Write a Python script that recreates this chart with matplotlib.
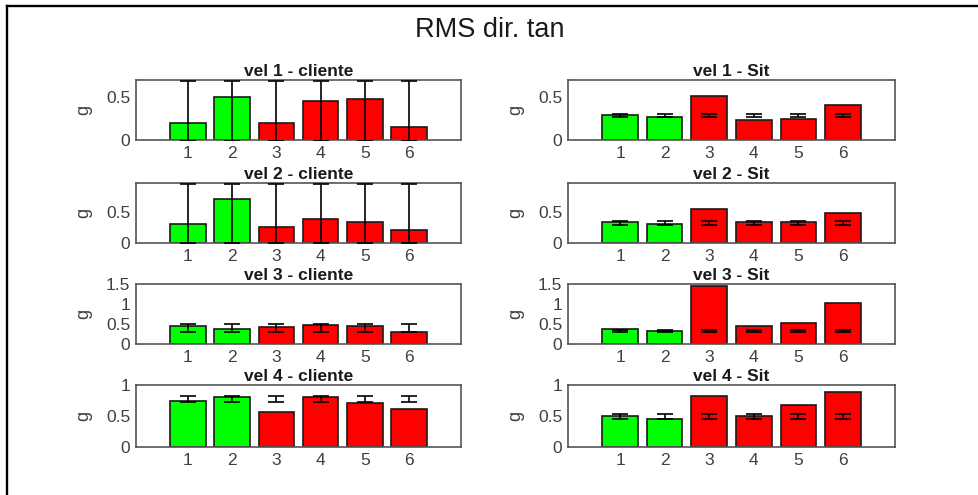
import matplotlib
matplotlib.use("Agg")
import matplotlib.pyplot as plt
from matplotlib.lines import Line2D

plt.rcParams['font.family'] = ['Liberation Sans', 'DejaVu Sans']

# Trial numbers and bar colours (first two conditions green, the rest red)
positions = [1, 2, 3, 4, 5, 6]
tick_labels = ['1', '2', '3', '4', '5', '6']
bar_colors = ['#00ff00', '#00ff00', '#ff0000', '#ff0000', '#ff0000', '#ff0000']

# RMS values (g) per speed, "cliente" condition
cliente_vel1 = [0.19, 0.49, 0.19, 0.45, 0.47, 0.15]
cliente_vel2 = [0.31, 0.70, 0.26, 0.38, 0.34, 0.21]
cliente_vel3 = [0.45, 0.37, 0.425, 0.475, 0.45, 0.31]
cliente_vel4 = [0.74, 0.80, 0.56, 0.80, 0.705, 0.61]

# RMS values (g) per speed, "Sit" condition
sit_vel1 = [0.29, 0.27, 0.51, 0.23, 0.245, 0.40]
sit_vel2 = [0.33, 0.31, 0.55, 0.34, 0.33, 0.48]
sit_vel3 = [0.37, 0.33, 1.45, 0.45, 0.52, 1.02]
sit_vel4 = [0.495, 0.455, 0.82, 0.495, 0.67, 0.89]

# Reference mean and spread drawn as error bars
cliente_err_mean = {1: [0.33, 0.33, 0.33, 0.33, 0.33, 0.33],
                    2: [0.475, 0.475, 0.475, 0.475, 0.475, 0.475],
                    3: [0.405, 0.405, 0.405, 0.405, 0.405, 0.405],
                    4: [0.77, 0.77, 0.77, 0.77, 0.77, 0.77]}
cliente_err_std = {1: [0.345, 0.345, 0.345, 0.345, 0.345, 0.345],
                   2: [0.475, 0.475, 0.475, 0.475, 0.475, 0.475],
                   3: [0.095, 0.095, 0.095, 0.095, 0.095, 0.095],
                   4: [0.05, 0.05, 0.05, 0.05, 0.05, 0.05]}
sit_err_mean = {1: [0.28, 0.28, 0.28, 0.28, 0.28, 0.28],
                2: [0.32, 0.32, 0.32, 0.32, 0.32, 0.32],
                3: [0.33, 0.33, 0.33, 0.33, 0.33, 0.33],
                4: [0.49, 0.49, 0.49, 0.49, 0.49, 0.49]}
sit_err_std = {1: [0.02, 0.02, 0.02, 0.02, 0.02, 0.02],
               2: [0.033, 0.033, 0.033, 0.033, 0.033, 0.033],
               3: [0.03, 0.03, 0.03, 0.03, 0.03, 0.03],
               4: [0.037, 0.037, 0.037, 0.037, 0.037, 0.037]}

cliente = {1: cliente_vel1, 2: cliente_vel2, 3: cliente_vel3, 4: cliente_vel4}
sit = {1: sit_vel1, 2: sit_vel2, 3: sit_vel3, 4: sit_vel4}

# Shared y range per speed row
row_ylim = {1: 0.69, 2: 0.96, 3: 1.5, 4: 1.0}
row_yticks = {1: [0, 0.5], 2: [0, 0.5], 3: [0, 0.5, 1, 1.5], 4: [0, 0.5, 1]}

W, H = 979, 495
fig = plt.figure(figsize=(W / 100, H / 100), dpi=100)
fig.patch.set_facecolor('white')

# outer frame lines (top and left edges of the window)
fx, fy = 7.0 / W, 1 - 6.0 / H
fig.add_artist(Line2D([fx, fx], [0, fy], transform=fig.transFigure,
                      color='black', linewidth=1.7, solid_capstyle='projecting'))
fig.add_artist(Line2D([fx, 1], [fy, fy], transform=fig.transFigure,
                      color='black', linewidth=1.7, solid_capstyle='projecting'))

fig.text(0.5, 1 - 30 / H, 'RMS dir. tan', ha='center', va='center',
         fontsize=19.5, color='#1a1a1a')

row_px = {1: (80, 140), 2: (183, 243), 3: (284, 344), 4: (385, 447)}
col_px = {0: (136, 461), 1: (568, 895)}

axis_grey = '#555555'
label_grey = '#404040'


def fmt(v):
    return '0' if v == 0 else ('%g' % v)


for row in (1, 2, 3, 4):
    top, bot = row_px[row]
    for col, (name, data, emean, estd) in enumerate(
            [('cliente', cliente, cliente_err_mean, cliente_err_std),
             ('Sit', sit, sit_err_mean, sit_err_std)]):
        x0, x1 = col_px[col]
        ax = fig.add_axes([x0 / W, 1 - bot / H, (x1 - x0) / W, (bot - top) / H])
        ax.bar(positions, data[row], width=0.8, color=bar_colors,
               edgecolor='#1a1a1a', linewidth=1.2, zorder=2)
        ax.errorbar(positions, emean[row], yerr=estd[row], fmt='none',
                    ecolor='black', elinewidth=1.2, capsize=6, capthick=1.2,
                    zorder=3)
        ax.set_xlim(-0.17, 7.17)
        ax.set_ylim(0, row_ylim[row])
        ax.set_xticks(positions)
        ax.set_xticklabels(tick_labels)
        ax.set_yticks(row_yticks[row])
        ax.set_yticklabels([fmt(v) for v in row_yticks[row]])
        ax.tick_params(length=0, labelsize=12.5, labelcolor=label_grey, pad=4)
        for sp in ax.spines.values():
            sp.set_color(axis_grey)
            sp.set_linewidth(1.2)
        ax.set_ylabel('g', fontsize=13, color=label_grey)
        ax.yaxis.set_label_coords(-0.135, 0.5)
        ax.set_title('vel %d - %s' % (row, name), fontsize=12.5,
                     fontweight='bold', color='#1a1a1a', pad=3)

fig.savefig('out.png', dpi=100, facecolor='white')
